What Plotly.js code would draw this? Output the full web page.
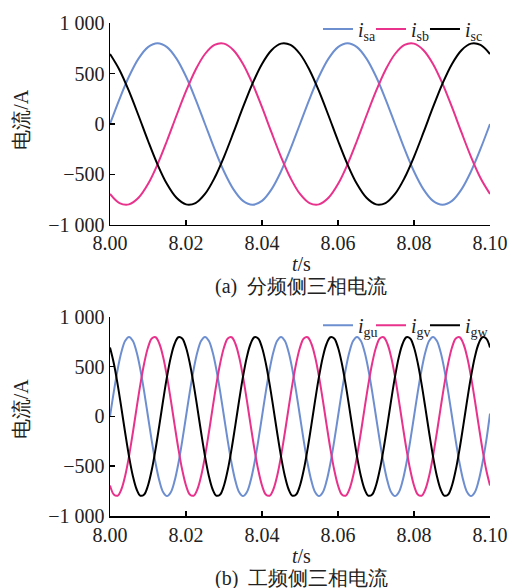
<!DOCTYPE html>
<html>
<head>
<meta charset="utf-8">
<script src="https://cdn.plot.ly/plotly-3.0.1.min.js"></script>
<style>html,body{margin:0;padding:0;background:#fff;}#chart{width:511px;height:588px;}</style>
</head>
<body>
<div id="chart"></div>
<script>
// time samples (s)
const tTop = [8.0000,8.0025,8.0050,8.0075,8.0100,8.0125,8.0150,8.0175,8.0200,8.0225,
  8.0250,8.0275,8.0300,8.0325,8.0350,8.0375,8.0400,8.0425,8.0450,8.0475,
  8.0500,8.0525,8.0550,8.0575,8.0600,8.0625,8.0650,8.0675,8.0700,8.0725,
  8.0750,8.0775,8.0800,8.0825,8.0850,8.0875,8.0900,8.0925,8.0950,8.0975,8.1000];
// (a) split-frequency side currents (A)
const isa = [0,247,470,647,761,800,761,647,470,247,0,-247,-470,-647,-761,-800,-761,-647,-470,-247,
  0,247,470,647,761,800,761,647,470,247,0,-247,-470,-647,-761,-800,-761,-647,-470,-247,0];
const isb = [-693,-783,-796,-731,-595,-400,-166,84,325,535,693,783,796,731,595,400,166,-84,-325,-535,
  -693,-783,-796,-731,-595,-400,-166,84,325,535,693,783,796,731,595,400,166,-84,-325,-535,-693];
const isc = [693,535,325,84,-166,-400,-595,-731,-796,-783,-693,-535,-325,-84,166,400,595,731,796,783,
  693,535,325,84,-166,-400,-595,-731,-796,-783,-693,-535,-325,-84,166,400,595,731,796,783,693];

const tBot = [8.000,8.001,8.002,8.003,8.004,8.005,8.006,8.007,8.008,8.009,
  8.010,8.011,8.012,8.013,8.014,8.015,8.016,8.017,8.018,8.019,
  8.020,8.021,8.022,8.023,8.024,8.025,8.026,8.027,8.028,8.029,
  8.030,8.031,8.032,8.033,8.034,8.035,8.036,8.037,8.038,8.039,
  8.040,8.041,8.042,8.043,8.044,8.045,8.046,8.047,8.048,8.049,
  8.050,8.051,8.052,8.053,8.054,8.055,8.056,8.057,8.058,8.059,
  8.060,8.061,8.062,8.063,8.064,8.065,8.066,8.067,8.068,8.069,
  8.070,8.071,8.072,8.073,8.074,8.075,8.076,8.077,8.078,8.079,
  8.080,8.081,8.082,8.083,8.084,8.085,8.086,8.087,8.088,8.089,
  8.090,8.091,8.092,8.093,8.094,8.095,8.096,8.097,8.098,8.099,8.100];
// (b) power-frequency side currents (A)
const igu = [0,247,470,647,761,800,761,647,470,247,0,-247,-470,-647,-761,-800,-761,-647,-470,-247,
  0,247,470,647,761,800,761,647,470,247,0,-247,-470,-647,-761,-800,-761,-647,-470,-247,
  0,247,470,647,761,800,761,647,470,247,0,-247,-470,-647,-761,-800,-761,-647,-470,-247,
  0,247,470,647,761,800,761,647,470,247,0,-247,-470,-647,-761,-800,-761,-647,-470,-247,
  0,247,470,647,761,800,761,647,470,247,0,-247,-470,-647,-761,-800,-761,-647,-470,-247,30];
const igv = [-693,-783,-796,-731,-595,-400,-166,84,325,535,693,783,796,731,595,400,166,-84,-325,-535,
  -693,-783,-796,-731,-595,-400,-166,84,325,535,693,783,796,731,595,400,166,-84,-325,-535,
  -693,-783,-796,-731,-595,-400,-166,84,325,535,693,783,796,731,595,400,166,-84,-325,-535,
  -693,-783,-796,-731,-595,-400,-166,84,325,535,693,783,796,731,595,400,166,-84,-325,-535,
  -693,-783,-796,-731,-595,-400,-166,84,325,535,693,783,796,731,595,400,166,-84,-325,-535,-693];
const igw = [693,535,325,84,-166,-400,-595,-731,-796,-783,-693,-535,-325,-84,166,400,595,731,796,783,
  693,535,325,84,-166,-400,-595,-731,-796,-783,-693,-535,-325,-84,166,400,595,731,796,783,
  693,535,325,84,-166,-400,-595,-731,-796,-783,-693,-535,-325,-84,166,400,595,731,796,783,
  693,535,325,84,-166,-400,-595,-731,-796,-783,-693,-535,-325,-84,166,400,595,731,796,783,
  693,535,325,84,-166,-400,-595,-731,-796,-783,-693,-535,-325,-84,166,400,595,731,796,783,693];

const xTickVals = [8.00,8.02,8.04,8.06,8.08,8.10];
const xTickText = ["8.00","8.02","8.04","8.06","8.08","8.10"];
const yTickVals = [1000,500,0,-500,-1000];
const yTickText = ["1 000","500","0","\u2212500","\u22121 000"];
const namesTop = ["<i>i</i><sub>sa</sub>","<i>i</i><sub>sb</sub>","<i>i</i><sub>sc</sub>"];
const namesBot = ["<i>i</i><sub>gu</sub>","<i>i</i><sub>gv</sub>","<i>i</i><sub>gw</sub>"];
const captions = ["(a)\u00a0\u00a0分频侧三相电流","(b)\u00a0\u00a0工频侧三相电流"];

const colors = ["#6d8fd0","#e8328c","#000000"];
const serif = "'Liberation Serif', 'Times New Roman', serif";

function tr(x, y, name, c, xa, ya, leg) {
  return {x: x, y: y, name: name, type: "scatter", mode: "lines",
    line: {color: c, width: 2, shape: "spline", smoothing: 1},
    xaxis: xa, yaxis: ya, legend: leg};
}
const data = [
  tr(tTop, isa, namesTop[0], colors[0], "x", "y", "legend"),
  tr(tTop, isb, namesTop[1], colors[1], "x", "y", "legend2"),
  tr(tTop, isc, namesTop[2], colors[2], "x", "y", "legend3"),
  tr(tBot, igu, namesBot[0], colors[0], "x2", "y2", "legend4"),
  tr(tBot, igv, namesBot[1], colors[1], "x2", "y2", "legend5"),
  tr(tBot, igw, namesBot[2], colors[2], "x2", "y2", "legend6")
];

const xax = (anchor) => ({
  anchor: anchor, domain: [0,1], range: [8.0, 8.1],
  tickvals: xTickVals, ticktext: xTickText,
  ticks: "inside", ticklen: 5, tickwidth: 1.5, tickcolor: "#000",
  showline: true, linecolor: "#000", linewidth: 1.5,
  showgrid: false, zeroline: false, automargin: false,
  tickfont: {family: serif, size: 20, color: "#222"}
});
const yax = (anchor, dom) => ({
  anchor: anchor, domain: dom, range: [-1000, 1000],
  tickvals: yTickVals, ticktext: yTickText,
  ticks: "inside", ticklen: 5, tickwidth: 1.5, tickcolor: "#000",
  showline: true, linecolor: "#000", linewidth: 1.5,
  showgrid: false, zeroline: false, automargin: false,
  tickfont: {family: serif, size: 20, color: "#222"}
});

const legendCfg = (x, y) => ({
  orientation: "h", x: x, xanchor: "left", y: y, yanchor: "middle",
  font: {family: serif, size: 20, color: "#222"},
  bgcolor: "rgba(0,0,0,0)", itemwidth: 30
});

const ann = (x, y, text, angle) => ({
  xref: "paper", yref: "paper", x: x, y: y, text: text, showarrow: false,
  xanchor: "center", yanchor: "middle", textangle: angle || 0,
  font: {family: serif, size: 20, color: "#222"}
});

const layout = {
  width: 511, height: 588,
  margin: {l: 110, r: 21, t: 23, b: 72, pad: 0, autoexpand: false},
  paper_bgcolor: "#fff", plot_bgcolor: "#fff",
  font: {family: serif},
  xaxis: xax("y"), yaxis: yax("x", [0.5903, 1]),
  xaxis2: xax("y2"), yaxis2: yax("x2", [0, 0.4037]),
  legend: legendCfg(0.5474, 0.988),
  legend2: legendCfg(0.6868, 0.988),
  legend3: legendCfg(0.8289, 0.988),
  legend4: legendCfg(0.5474, 0.387),
  legend5: legendCfg(0.6868, 0.387),
  legend6: legendCfg(0.8289, 0.387),
  showlegend: true,
  annotations: [
    ann(-0.235, 0.805, "电流/A", -90),
    ann(-0.235, 0.218, "电流/A", -90),
    ann(0.503, 0.511, "<i>t</i>/s"),
    ann(0.503, -0.081, "<i>t</i>/s"),
    ann(0.503, 0.466, captions[0]),
    ann(0.503, -0.126, captions[1])
  ]
};

Plotly.newPlot("chart", data, layout, {displayModeBar: false, staticPlot: true});
</script>
</body>
</html>
